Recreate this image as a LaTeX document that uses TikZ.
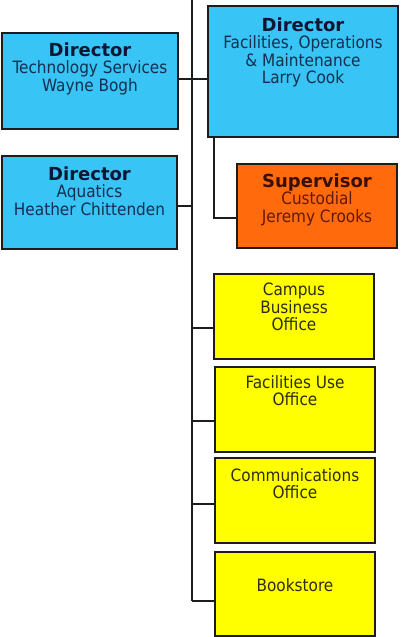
\documentclass[tikz,border=0pt]{standalone}
\usepackage{fontspec}
\setmainfont{DejaVu Sans Condensed}
\newfontfamily\titlefont{DejaVu Sans}
\definecolor{boxblue}{HTML}{38C4F4}
\definecolor{boxorange}{HTML}{FF6A0D}
\definecolor{boxyellow}{HTML}{FFFF00}
\definecolor{edgecol}{HTML}{1C1C1C}
\definecolor{navytitle}{HTML}{0E1634}
\definecolor{navytext}{HTML}{142F50}
\definecolor{orangetitle}{HTML}{3A1005}
\definecolor{orangetext}{HTML}{641804}
\definecolor{yellowtext}{HTML}{2E2E0C}
\begin{document}
\begin{tikzpicture}[x=1pt,y=-1pt,
  orgbox/.style={draw=edgecol, line width=2.4pt, minimum width=#1, inner sep=0pt},
  bluebox/.style={orgbox=#1, fill=boxblue},
  orangebox/.style={orgbox=#1, fill=boxorange},
  yellowbox/.style={orgbox=#1, fill=boxyellow},
  boxtext/.style={anchor=north, inner sep=0pt, align=center, font=\fontsize{17}{17.5}\selectfont},
  conn/.style={draw=edgecol, line width=2pt}]
\useasboundingbox (0,0) rectangle (403,637);
\fill[white] (0,0) rectangle (403,637);
\newcommand{\ttlline}[1]{{\titlefont\fontsize{18}{17.5}\selectfont\bfseries #1}}

% trunk
\coordinate (trunktop) at (191.5,0);
\coordinate (trunkbot) at (191.5,601);
\draw[conn] (trunktop) -- (trunkbot);

% boxes
\node[bluebox=176pt, minimum height=96pt] (tech) at (90,81) {};
\node[bluebox=190pt, minimum height=131pt] (fac) at (303,71.5) {};
\node[bluebox=175pt, minimum height=93pt] (aq) at (89.5,202.5) {};
\node[orangebox=160pt, minimum height=84pt] (sup) at (317,206) {};
\node[yellowbox=160pt, minimum height=85pt] (cbo) at (294,316.5) {};
\node[yellowbox=160pt, minimum height=85pt] (fuo) at (295,409.5) {};
\node[yellowbox=160pt, minimum height=85pt] (com) at (295,500.5) {};
\node[yellowbox=160pt, minimum height=84pt] (book) at (295,594) {};

% texts
\node[boxtext, text=navytext] (techtxt) at (90,42.5) {\textcolor{navytitle}{\ttlline{Director}}\\Technology Services\\Wayne Bogh};
\node[boxtext, text=navytext] (factxt) at (303,17.5) {\textcolor{navytitle}{\ttlline{Director}}\\Facilities, Operations\\\& Maintenance\\Larry Cook};
\node[boxtext, text=navytext] (aqtxt) at (89.5,166.5) {\textcolor{navytitle}{\ttlline{Director}}\\Aquatics\\Heather Chittenden};
\node[boxtext, text=orangetext] (suptxt) at (317,173.5) {\textcolor{orangetitle}{\ttlline{Supervisor}}\\Custodial\\Jeremy Crooks};
\node[boxtext, text=yellowtext] (cbotxt) at (294,283) {Campus\\Business\\Office};
\node[boxtext, text=yellowtext] (fuotxt) at (295,375) {Facilities Use\\Office};
\node[boxtext, text=yellowtext] (comtxt) at (295,468) {Communications\\Office};
\node[boxtext, text=yellowtext] (booktxt) at (295,578) {Bookstore};

% connectors
\coordinate (techc) at ([yshift=2pt]tech.east);
\draw[conn] (techc) -- (fac.west |- techc);
\coordinate (aqc) at ([yshift=-3.5pt]aq.east);
\draw[conn] (aqc) -- (trunktop |- aqc);
\coordinate (facdrop) at ([xshift=7pt]fac.south west);
\coordinate (supc) at ([yshift=-12pt]sup.west);
\draw[conn] (facdrop) |- (supc);
\coordinate (cboc) at ([yshift=-11.5pt]cbo.west);
\draw[conn] (cboc) -- (trunktop |- cboc);
\coordinate (fuoc) at ([yshift=-11.5pt]fuo.west);
\draw[conn] (fuoc) -- (trunktop |- fuoc);
\coordinate (comc) at ([yshift=-3.5pt]com.west);
\draw[conn] (comc) -- (trunktop |- comc);
\coordinate (bookc) at ([yshift=-7pt]book.west);
\draw[conn] (bookc) -- (trunkbot |- bookc);
\end{tikzpicture}
\end{document}
